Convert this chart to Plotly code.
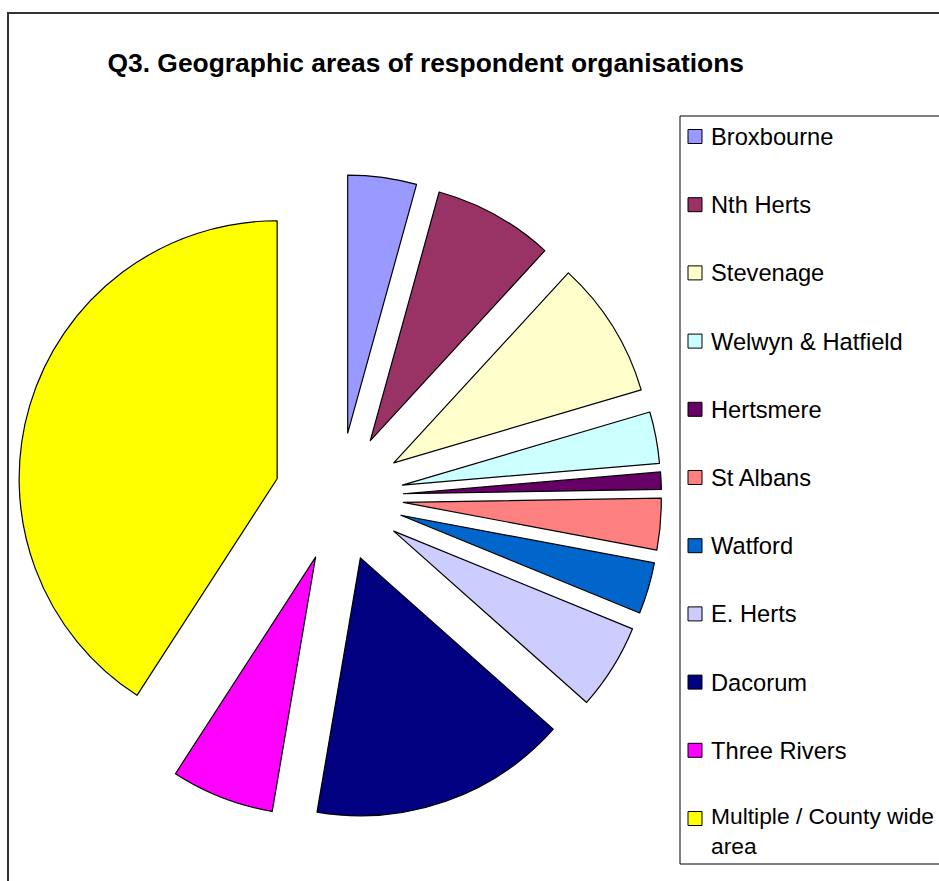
import plotly.graph_objects as go

# ---- data ----
labels = ["Broxbourne", "Nth Herts", "Stevenage", "Welwyn & Hatfield", "Hertsmere",
          "St Albans", "Watford", "E. Herts", "Dacorum", "Three Rivers",
          "Multiple / County wide area"]
legend_text = ["Broxbourne", "Nth Herts", "Stevenage", "Welwyn & Hatfield", "Hertsmere",
               "St Albans", "Watford", "E. Herts", "Dacorum", "Three Rivers",
               "Multiple / County wide<br>area"]
values = [4, 7, 8, 3, 1, 3, 3, 5, 15, 6, 38]
colors = ["#9999FF", "#993366", "#FFFFCC", "#CCFFFF", "#660066",
          "#FF8080", "#0066CC", "#CCCCFF", "#000080", "#FF00FF", "#FFFF00"]
title_text = "Q3. Geographic areas of respondent organisations"

W, H = 939, 881
def px(x):
    return x / W
def py(y):
    return 1 - y / H

# pie geometry (pixels)
cx, cy, half = 339, 497, 322.5
pull = 0.25

fig = go.Figure()
fig.add_trace(go.Pie(
    labels=labels, values=values, sort=False, direction="clockwise", rotation=0,
    marker=dict(colors=colors, line=dict(color="#000000", width=1.2)),
    pull=[pull] * len(values), textinfo="none", hoverinfo="label+value+percent",
    showlegend=False,
    domain=dict(x=[px(cx - half), px(cx + half)], y=[py(cy + half), py(cy - half)]),
))

shapes = []
annotations = []
# outer frame
shapes.append(dict(type="rect", xref="paper", yref="paper",
                   x0=px(8), x1=px(980), y0=py(13), y1=py(920),
                   line=dict(color="#333333", width=2), fillcolor="rgba(0,0,0,0)", layer="below"))
# legend box
shapes.append(dict(type="rect", xref="paper", yref="paper",
                   x0=px(680), x1=px(980), y0=py(116), y1=py(864),
                   line=dict(color="#000000", width=1), fillcolor="#FFFFFF", layer="below"))

font_fam = "Arial, Liberation Sans, sans-serif"
for i, (lab, col) in enumerate(zip(legend_text, colors)):
    c = 136.5 + 68.2 * i
    shapes.append(dict(type="rect", xref="paper", yref="paper",
                       x0=px(688), x1=px(702), y0=py(c - 7), y1=py(c + 7),
                       line=dict(color="#000000", width=1), fillcolor=col))
    if "<br>" in lab:
        annotations.append(dict(text=lab, xref="paper", yref="paper", x=px(709), y=py(c - 18),
                                xanchor="left", yanchor="top", align="left", showarrow=False,
                                font=dict(family=font_fam, size=22.8, color="#000000")))
    else:
        annotations.append(dict(text=lab, xref="paper", yref="paper", x=px(709), y=py(c + 0.5),
                                xanchor="left", yanchor="middle", showarrow=False,
                                font=dict(family=font_fam, size=23.7, color="#000000")))

fig.update_layout(
    width=W, height=H, margin=dict(l=0, r=0, t=0, b=0),
    paper_bgcolor="#FFFFFF", plot_bgcolor="#FFFFFF",
    title=dict(text=title_text, x=px(107.5), xanchor="left", xref="paper",
               y=py(63), yanchor="middle", yref="paper",
               font=dict(family=font_fam, size=26.4, color="#000000", weight="bold")),
    shapes=shapes, annotations=annotations,
)

fig.write_html("out.html")
